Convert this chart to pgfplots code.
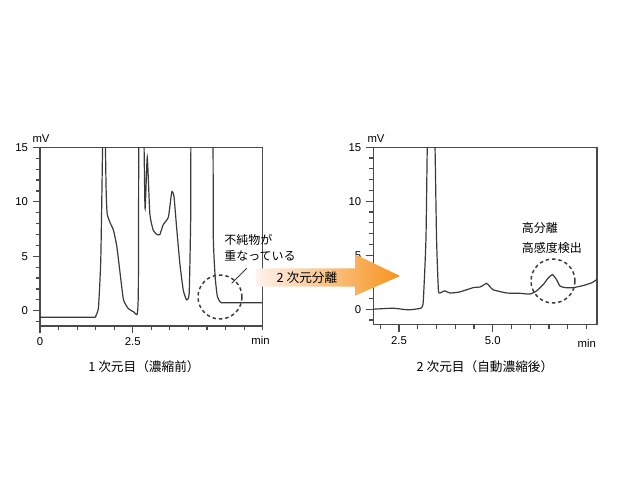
\documentclass[border=0pt]{standalone}
\usepackage{pgfplots}
\pgfplotsset{compat=1.18}
\usepackage{fontspec}
\setmainfont{Liberation Sans}
\newfontfamily\cjk{Noto Sans CJK JP}
\definecolor{trace}{HTML}{3A3A3A}
\definecolor{frame}{HTML}{4A4A4A}
\definecolor{arrowA}{HTML}{FDF2EE}
\definecolor{arrowB}{HTML}{F7921C}
\begin{document}
\begin{tikzpicture}
\useasboundingbox (0,0) rectangle (465pt,-375pt);
\pgfplotsset{chrom/.style={scale only axis, anchor=south west,
  ymin=-1.4, ymax=15,
  ytick={0,5,10,15}, minor ytick={-1,1,2,3,4,6,7,8,9,11,12,13,14},
  tick align=outside, xtick pos=bottom, ytick pos=left,
  major tick length=5.5pt, minor tick length=3.2pt,
  axis line style={frame, line width=0.9pt},
  major tick style={draw=frame, line width=1pt},
  minor tick style={draw=frame, line width=0.9pt},
  tick label style={font=\fontsize{8.5}{10}\selectfont},
  /pgf/number format/assume math mode=true,
  clip=true}}
\begin{axis}[chrom, at={(30pt,-244.5pt)}, width=167pt, height=134pt,
  xmin=0, xmax=6, xtick={0,2.5}, xticklabels={0,2.5},
  minor xtick={0.5,1,1.5,2,3,3.5,4,4.5,5,5.5,6}]
\addplot[trace, line width=0.9pt, smooth, tension=0.3] coordinates {
(0,-0.6) (1.42,-0.6) (1.50,-0.5) (1.55,-0.1) (1.58,0.5) (1.64,5) (1.71,20)
(1.74,20) (1.78,11.4) (1.81,8.9) (1.9,8.0) (1.98,7.4) (2.07,5.9)
(2.16,3.4) (2.25,1.0) (2.38,0.2) (2.52,-0.1) (2.62,-0.3) (2.65,2)
(2.67,20) (2.78,20) (2.83,9.4) (2.89,14.1) (2.96,8.9) (3.05,7.4)
(3.15,7.0) (3.23,7.0) (3.32,7.9) (3.46,8.6) (3.55,10.9) (3.61,10.5)
(3.68,7.7) (3.77,4.3) (3.86,1.9) (3.95,1.0) (4.02,1.6) (4.06,8.3)
(4.10,20) (4.63,20) (4.67,6.8) (4.72,3.1) (4.78,1.3) (4.86,0.8) (4.95,0.73) (6,0.73)
};
\end{axis}
\begin{axis}[chrom, at={(279.975pt,-243.225pt)}, width=167.8pt, height=132.75pt,
  xmin=1.815, xmax=7.78, xtick={2.5,5}, xticklabels={2.5,5.0},
  minor xtick={2,3,3.5,4,4.5,5.5,6,6.5,7,7.5}]
\addplot[trace, line width=0.9pt, smooth, tension=0.3] coordinates {
(1.815,0) (2.35,0.09) (2.75,-0.06) (3.10,0.12) (3.15,0.9) (3.22,6.7)
(3.28,20) (3.43,20) (3.50,6.7) (3.55,1.8) (3.59,1.5) (3.65,1.6) (3.72,1.7)
(3.86,1.5) (4.12,1.6) (4.48,2.0) (4.65,2.05) (4.74,2.2) (4.83,2.4)
(4.91,2.15) (5.01,1.8) (5.37,1.5) (5.73,1.47) (5.99,1.4) (6.17,1.7)
(6.35,2.3) (6.48,2.9) (6.59,3.2) (6.69,2.8) (6.79,2.15) (6.93,2.0)
(7.15,2.0) (7.42,2.2) (7.64,2.45) (7.78,2.76)
};
\end{axis}
\begin{scope}[x=0.75pt,y=-0.75pt]
% axis unit labels
\node[font=\fontsize{8.5}{10}\selectfont] at (41,139) {mV};
\node[font=\fontsize{8.5}{10}\selectfont] at (376,139) {mV};
\node[font=\fontsize{8.5}{10}\selectfont] at (260.5,340.5) {min};
\node[font=\fontsize{8.5}{10}\selectfont] at (586.7,343) {min};
% titles
\node[font=\cjk\fontsize{9.5}{11}\selectfont] at (144,367) {1 次元目（濃縮前）};
\node[font=\cjk\fontsize{9.5}{11}\selectfont] at (485,367) {2 次元目（自動濃縮後）};
% annotations
\node[font=\cjk\fontsize{9}{11}\selectfont, anchor=west, inner sep=0pt] at (224,240) {不純物が};
\node[font=\cjk\fontsize{9}{11}\selectfont, anchor=west, inner sep=0pt] at (224,256) {重なっている};
\draw[trace, line width=0.6pt] (246.7,268.3) -- (231.7,283.3);
\node[font=\cjk\fontsize{9}{11}\selectfont, anchor=west, inner sep=0pt] at (521.7,228.3) {高分離};
\node[font=\cjk\fontsize{9}{11}\selectfont, anchor=west, inner sep=0pt] at (521.7,248.3) {高感度検出};
\draw[trace, line width=1.1pt, dash pattern=on 2.6pt off 2.2pt] (220,297) circle[radius=16.5pt];
\draw[trace, line width=1.1pt, dash pattern=on 2.6pt off 2.2pt] (553,281) circle[radius=16.5pt];
% arrow
\shade[left color=arrowA, right color=arrowB] (256,268.3) -- (355,268.3) -- (355,254.3) -- (400,276) -- (355,295.7) -- (355,286.7) -- (256,286.7) -- cycle;
\node[font=\cjk\fontsize{9.5}{11}\selectfont] at (307,277.5) {2 次元分離};
\end{scope}
\end{tikzpicture}
\end{document}
